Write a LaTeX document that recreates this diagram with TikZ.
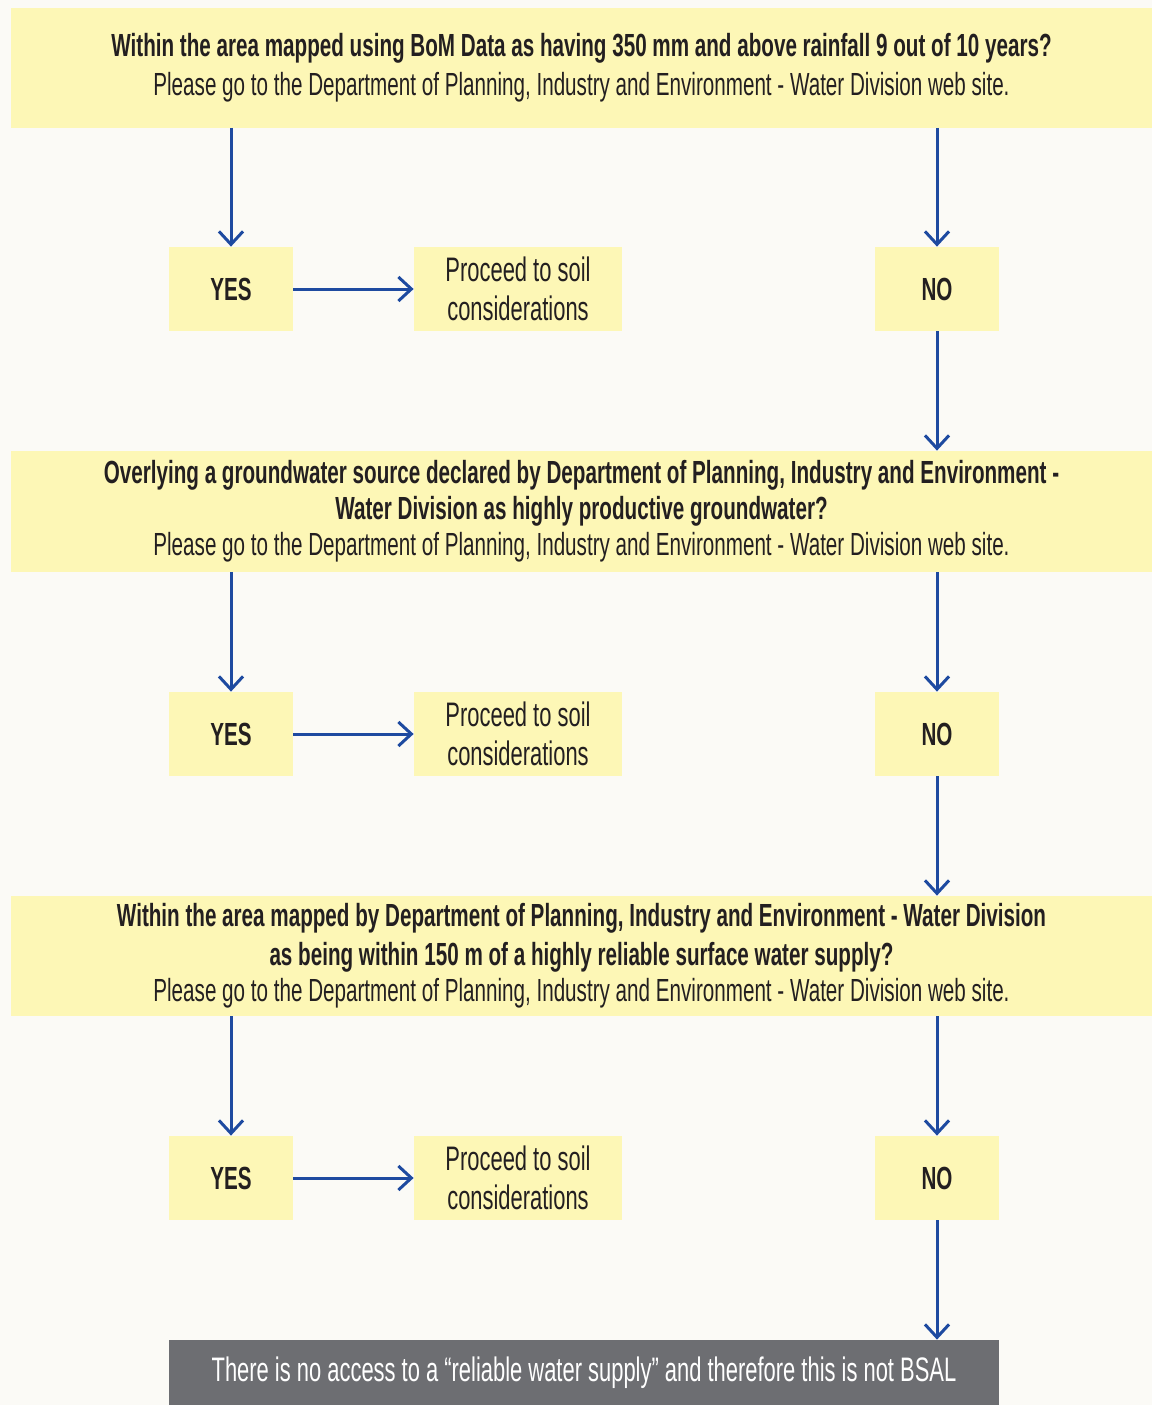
\documentclass[tikz,border=0pt]{standalone}
\usepackage{fontspec}
\setmainfont{Liberation Sans}[FakeStretch=0.645]
\usetikzlibrary{arrows.meta}

\definecolor{bsalbg}{HTML}{FBFAF6}
\definecolor{bsalyellow}{HTML}{FDF7B6}
\definecolor{bsalblue}{HTML}{1E4AA0}
\definecolor{bsalgrey}{HTML}{6D6E72}
\definecolor{bsaltext}{HTML}{231F20}

\tikzset{
  question/.style={fill=bsalyellow, text=bsaltext, inner sep=0pt,
    minimum width=570.5pt, minimum height=60pt, align=center,
    font=\fontsize{16}{18}\selectfont},
  answer/.style={fill=bsalyellow, text=bsaltext, inner sep=0pt,
    minimum width=62pt, minimum height=42pt,
    font=\fontsize{16}{19}\selectfont\bfseries},
  proceedbox/.style={fill=bsalyellow, text=bsaltext, inner sep=0pt,
    minimum width=104pt, minimum height=42pt, align=center,
    font=\fontsize{17}{19.5}\selectfont},
  endbox/.style={fill=bsalgrey, text=white, inner sep=0pt,
    minimum width=415pt, minimum height=32.5pt,
    font=\fontsize{17}{19}\selectfont},
  flow/.style={draw=bsalblue, line width=1.5pt,
    -{Straight Barb[length=6.5pt,width=12pt,line width=1.5pt]}}
}

\begin{document}
\begin{tikzpicture}[x=0.5pt, y=-0.5pt]
\fill[bsalbg] (0,0) rectangle (1152,1405);
\useasboundingbox (0,0) rectangle (1152,1405);

% questions
\node[question] (q1) at (581.5,67.5) {\textbf{Within the area mapped using BoM Data as having 350 mm and above rainfall 9 out of 10 years?}\\[1.5pt]
Please go to the Department of Planning, Industry and Environment - Water Division web site.};
\node[question, minimum height=60.5pt] (q2) at (581.5,511.5) {\textbf{Overlying a groundwater source declared by Department of Planning, Industry and Environment -}\\
\textbf{Water Division as highly productive groundwater?}\\
Please go to the Department of Planning, Industry and Environment - Water Division web site.};
\node[question] (q3) at (581.5,956) {\textbf{Within the area mapped by Department of Planning, Industry and Environment - Water Division}\\[1.5pt]
\textbf{as being within 150 m of a highly reliable surface water supply?}\\
Please go to the Department of Planning, Industry and Environment - Water Division web site.};

% answers
\node[answer] (yes1) at (231,289) {YES};
\node[proceedbox] (soil1) at (518,289) {Proceed to soil\\considerations};
\node[answer] (no1) at (937,289) {NO};

\node[answer] (yes2) at (231,734) {YES};
\node[proceedbox] (soil2) at (518,734) {Proceed to soil\\considerations};
\node[answer] (no2) at (937,734) {NO};

\node[answer] (yes3) at (231,1178) {YES};
\node[proceedbox] (soil3) at (518,1178) {Proceed to soil\\considerations};
\node[answer] (no3) at (937,1178) {NO};

\node[endbox] (nobsal) at (584,1372.5) {There is no access to a “reliable water supply” and therefore this is not BSAL};

% arrows
\draw[flow] (q1.south -| yes1) -- (yes1.north);
\draw[flow] (q1.south -| no1) -- (no1.north);
\draw[flow] (yes1) -- (soil1);
\draw[flow] (no1) -- (q2.north -| no1);

\draw[flow] (q2.south -| yes2) -- (yes2.north);
\draw[flow] (q2.south -| no2) -- (no2.north);
\draw[flow] (yes2) -- (soil2);
\draw[flow] (no2) -- (q3.north -| no2);

\draw[flow] (q3.south -| yes3) -- (yes3.north);
\draw[flow] (q3.south -| no3) -- (no3.north);
\draw[flow] (yes3) -- (soil3);
\draw[flow] (no3) -- (nobsal.north -| no3);
\end{tikzpicture}
\end{document}
